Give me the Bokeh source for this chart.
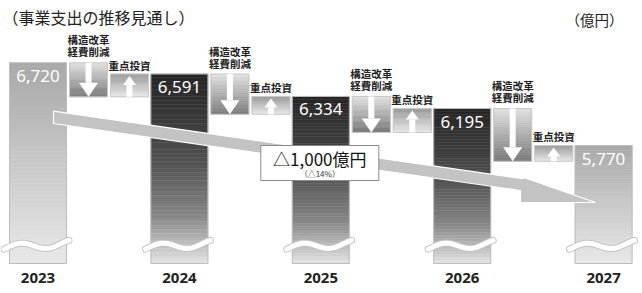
import numpy as np
from bokeh.plotting import figure
from bokeh.models import Range1d
from bokeh.core.properties import value
from bokeh.embed import file_html
from bokeh.resources import INLINE

# ---------------- data ----------------
years = [2023, 2024, 2025, 2026, 2027]
year_labels = ["2023", "2024", "2025", "2026", "2027"]
spend = [6720, 6591, 6334, 6195, 5770]                 # 事業支出 (億円)
value_labels = ["6,720", "6,591", "6,334", "6,195", "5,770"]
after_cut = [6330, 6130, 5920, 5590]                   # level after 構造改革・経費削減, before 重点投資
bar_kind = ["light", "dark", "dark", "dark", "light"]
cut_label = ["構造改革", "経費削減"]
invest_label = "重点投資"
total_label = "△1,000億円"
total_pct = "（△14%）"
title = "（事業支出の推移見通し）"
unit = "（億円）"

# ---------------- layout / scales ----------------
W, H = 642, 293
PXY = 141.4                     # px per year
X0 = 2023 - 37.5 / PXY
K = 0.0871                      # px per 億円
YTOP = 6322 + 97 / K


def dx(px):
    return px / PXY


def dy(px):
    return px / K


def X(px):
    return X0 + px / PXY


def Y(py):
    return YTOP - py / K


BASE = Y(263)                   # broken-axis baseline
BW = dx(57)
JP = value("Noto Sans CJK JP")

p = figure(width=W, height=H, x_range=Range1d(X0, X0 + W / PXY),
           y_range=Range1d(Y(H), YTOP), output_backend="svg",
           toolbar_location=None, min_border=0,
           x_axis_location=None, y_axis_location=None)
p.grid.visible = False
p.outline_line_color = None
p.background_fill_color = "white"


def lerp_color(stops, t):
    for (t0, c0), (t1, c1) in zip(stops[:-1], stops[1:]):
        if t <= t1:
            f = 0 if t1 == t0 else (t - t0) / (t1 - t0)
            r = [int(round(a + (b - a) * f)) for a, b in zip(c0, c1)]
            return "#%02x%02x%02x" % tuple(r)
    return "#%02x%02x%02x" % tuple(stops[-1][1])


def grad_quad(left, right, top, bottom, stops, n=50):
    edges = np.linspace(top, bottom, n + 1)
    cols = [lerp_color(stops, (i + 0.5) / n) for i in range(n)]
    p.quad(left=[left] * n, right=[right] * n, top=list(edges[:-1]),
           bottom=list(edges[1:]), fill_color=cols, line_color=cols, line_width=0.5)


LIGHT = [(0, (168, 168, 168)), (1, (232, 232, 232))]
DARK = [(0, (36, 36, 36)), (0.45, (80, 80, 80)), (0.75, (135, 135, 135)), (1, (228, 228, 228))]
CUT = [(0, (226, 226, 226)), (1, (120, 120, 120))]
INV = [(0, (150, 150, 150)), (1, (230, 230, 230))]

# ---------------- bars ----------------
for yr, v, kind in zip(years, spend, bar_kind):
    grad_quad(yr - BW / 2, yr + BW / 2, v, BASE, LIGHT if kind == "light" else DARK)
p.quad(left=[y - BW / 2 for y in years], right=[y + BW / 2 for y in years],
       top=spend, bottom=[BASE] * len(years), fill_color=None,
       line_color="#bdbdbd", line_width=1)

# ---------------- cut / invest boxes ----------------
for i in range(len(after_cut)):
    c = years[i]
    prev_v, next_v, low = spend[i], spend[i + 1], after_cut[i]
    # cut box
    l, r = c + dx(31.5), c + dx(69.5)
    grad_quad(l, r, prev_v, low, CUT, n=30)
    p.quad(left=[l], right=[r], top=[prev_v], bottom=[low], fill_color=None,
           line_color="#c8c8c8", line_width=1)
    m = (l + r) / 2
    head = dy(14)
    p.quad(left=[m - dx(3)], right=[m + dx(3)], top=[prev_v], bottom=[low + head],
           fill_color="white", line_color=None)
    p.patch([m - dx(9.5), m + dx(9.5), m], [low + head, low + head, low],
            fill_color="white", line_color=None)
    p.text([m], [prev_v + dy(23)], text=[cut_label[0]], text_font=JP,
           text_font_size="10.5px", text_align="center", text_baseline="middle",
           text_color="#222222", text_font_style="bold")
    p.text([m], [prev_v + dy(11)], text=[cut_label[1]], text_font=JP,
           text_font_size="10.5px", text_align="center", text_baseline="middle",
           text_color="#222222", text_font_style="bold")
    # invest box
    l2, r2 = c + dx(72.5), c + dx(110.5)
    grad_quad(l2, r2, next_v, low, INV, n=20)
    p.quad(left=[l2], right=[r2], top=[next_v], bottom=[low], fill_color=None,
           line_color="#c8c8c8", line_width=1)
    m2 = (l2 + r2) / 2
    p.quad(left=[m2 - dx(3)], right=[m2 + dx(3)], top=[next_v - dy(11)], bottom=[low],
           fill_color="white", line_color=None)
    p.patch([m2 - dx(6.5), m2 + dx(6.5), m2],
            [next_v - dy(11), next_v - dy(11), next_v - dy(2)],
            fill_color="white", line_color=None)
    p.text([m2], [next_v + dy(9)], text=[invest_label], text_font=JP,
           text_font_size="10.5px", text_align="center", text_baseline="middle",
           text_color="#222222", text_font_style="bold")

# ---------------- break waves ----------------
wd = np.linspace(-34, 31, 60)
wy = 245 - 3.5 * np.cos(2 * np.pi * (wd + 17.5) / 53) - 0.07 * wd
for yr in years:
    xs = [yr + dx(d) for d in wd]
    ys = [Y(v) for v in wy]
    p.line(xs, ys, line_color="#c4c4c4", line_width=7, line_cap="round")
    p.line(xs, ys, line_color="white", line_width=5, line_cap="round")

# ---------------- big arrow ----------------
ax_px = [53, 522, 524, 595, 520, 520, 53]
ay_px = [110.7, 178.2, 177.2, 202, 202, 190, 123]
p.patch([X(a) for a in ax_px], [Y(b) for b in ay_px], fill_color="#c3c3c3",
        line_color="white", line_width=1.2)

# label box
bx = years[2]
p.quad(left=[bx - dx(60)], right=[bx + dx(58)], top=[Y(145)], bottom=[Y(180)],
       fill_color="white", line_color="#8a8a8a", line_width=1)
p.text([bx - dx(1)], [Y(158)], text=[total_label], text_font=JP,
       text_font_size="17px", text_align="center", text_baseline="middle",
       text_color="#111111")
p.text([bx - dx(1)], [Y(173)], text=[total_pct], text_font=JP,
       text_font_size="8px", text_align="center", text_baseline="middle",
       text_color="#333333")

# ---------------- value labels ----------------
p.text(years, [v - dy(13) for v in spend], text=value_labels,
       text_font=value("Noto Sans"), text_font_size="17px", text_align="center",
       text_baseline="middle", text_color="white")

# ---------------- year labels ----------------
p.text(years, [Y(277)] * len(years), text=year_labels,
       text_font=value("Noto Sans"), text_font_size="15px", text_font_style="bold",
       text_align="center", text_baseline="middle", text_color="#222222")

# ---------------- title / unit ----------------
p.text([X(2)], [Y(16.5)], text=[title], text_font=JP, text_font_size="16px",
       text_align="left", text_baseline="middle", text_color="#222222")
p.text([X(623)], [Y(18.5)], text=[unit], text_font=JP, text_font_size="14.5px",
       text_align="right", text_baseline="middle", text_color="#222222")

open("out.html", "w").write(file_html(p, INLINE))
